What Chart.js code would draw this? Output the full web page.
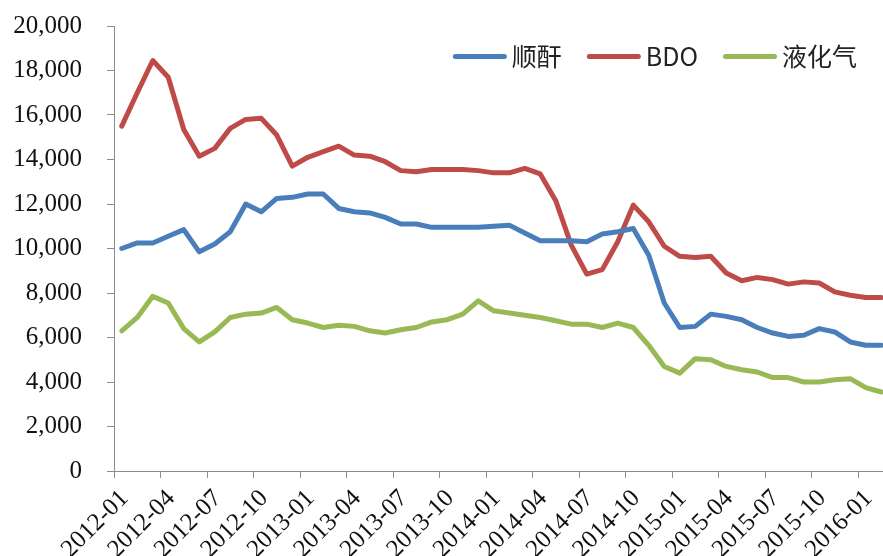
<!DOCTYPE html>
<html>
<head>
<meta charset="utf-8">
<script src="https://cdn.jsdelivr.net/npm/chart.js@4.4.1/dist/chart.umd.min.js"></script>
<style>
  html, body { margin: 0; padding: 0; background: #fff; }
  .frame { width: 883px; height: 556px; overflow: hidden; }
  .inner { width: 890px; height: 556px; }
</style>
</head>
<body>
<div class="frame"><div class="inner"><canvas id="priceChart" width="890" height="556"></canvas></div></div>
<script>
// 月份
const months = [
  "2012-01", "2012-02", "2012-03", "2012-04", "2012-05", "2012-06", "2012-07", "2012-08", "2012-09", "2012-10", "2012-11", "2012-12",
  "2013-01", "2013-02", "2013-03", "2013-04", "2013-05", "2013-06", "2013-07", "2013-08", "2013-09", "2013-10", "2013-11", "2013-12",
  "2014-01", "2014-02", "2014-03", "2014-04", "2014-05", "2014-06", "2014-07", "2014-08", "2014-09", "2014-10", "2014-11", "2014-12",
  "2015-01", "2015-02", "2015-03", "2015-04", "2015-05", "2015-06", "2015-07", "2015-08", "2015-09", "2015-10", "2015-11", "2015-12",
  "2016-01", "2016-02"
];

// 顺酐
const maleicAnhydride = [
  10000, 10250, 10250, 10550, 10850, 9850, 10200, 10750, 12000, 11650, 12250, 12300,
  12450, 12450, 11800, 11650, 11600, 11400, 11100, 11100, 10950, 10950, 10950, 10950,
  11000, 11050, 10700, 10350, 10350, 10350, 10300, 10650, 10750, 10900, 9700, 7550,
  6450, 6500, 7050, 6950, 6800, 6450, 6200, 6050, 6100, 6400, 6250, 5800,
  5650, 5650
];

// BDO
const bdo = [
  15500, 17000, 18450, 17700, 15350, 14150, 14500, 15400, 15800, 15850, 15100, 13700,
  14100, 14350, 14600, 14200, 14150, 13900, 13500, 13450, 13550, 13550, 13550, 13500,
  13400, 13400, 13600, 13350, 12150, 10150, 8850, 9050, 10300, 11950, 11200, 10100,
  9650, 9600, 9650, 8900, 8550, 8700, 8600, 8400, 8500, 8450, 8050, 7900,
  7800, 7800
];

// 液化气
const lpg = [
  6300, 6900, 7850, 7550, 6400, 5800, 6250, 6900, 7050, 7100, 7350, 6800,
  6650, 6450, 6550, 6500, 6300, 6200, 6350, 6450, 6700, 6800, 7050, 7650,
  7200, 7100, 7000, 6900, 6750, 6600, 6600, 6450, 6650, 6450, 5650, 4700,
  4400, 5050, 5000, 4700, 4550, 4450, 4200, 4200, 4000, 4000, 4100, 4150,
  3750, 3550
];

const seriesNames = ["顺酐", "BDO", "液化气"];
const seriesColours = ["#4a7ebb", "#be4b48", "#98b954"];
const axisColour = "#8c8c8c";
const serifFont = "'Liberation Serif', 'Times New Roman', serif";

// 图例画在绘图区右上角, 一行排开
const inlineLegend = {
  id: "inlineLegend",
  afterDraw(chart, args, opts) {
    const { ctx, chartArea } = chart;
    ctx.save();
    ctx.font = opts.font;
    const items = chart.data.datasets.map((ds) => ({
      text: ds.label,
      colour: ds.borderColor,
      w: ctx.measureText(ds.label).width
    }));
    let total = opts.itemGap * (items.length - 1);
    items.forEach((it) => { total += opts.lineLength + opts.textGap + it.w; });
    let x = chartArea.right - opts.right - total;
    const y = chartArea.top + opts.top;
    items.forEach((it) => {
      ctx.strokeStyle = it.colour;
      ctx.lineWidth = 5;
      ctx.lineCap = "round";
      ctx.beginPath();
      ctx.moveTo(x + 2.5, y);
      ctx.lineTo(x + opts.lineLength - 2.5, y);
      ctx.stroke();
      x += opts.lineLength + opts.textGap;
      ctx.fillStyle = opts.color;
      ctx.textAlign = "left";
      ctx.textBaseline = "middle";
      ctx.fillText(it.text, x, y);
      x += it.w + opts.itemGap;
    });
    ctx.restore();
  }
};

function makeDataset(label, data, colour) {
  return {
    label: label,
    data: data,
    borderColor: colour,
    backgroundColor: colour,
    borderWidth: 5,
    borderCapStyle: "round",
    borderJoinStyle: "round",
    pointRadius: 0,
    pointHoverRadius: 0,
    tension: 0,
    fill: false
  };
}

new Chart(document.getElementById("priceChart"), {
  type: "line",
  data: {
    labels: months,
    datasets: [
      makeDataset(seriesNames[0], maleicAnhydride, seriesColours[0]),
      makeDataset(seriesNames[1], bdo, seriesColours[1]),
      makeDataset(seriesNames[2], lpg, seriesColours[2])
    ]
  },
  options: {
    responsive: false,
    animation: false,
    devicePixelRatio: 1,
    layout: { padding: { top: 26, right: 1, left: 0, bottom: 0 } },
    plugins: {
      tooltip: { enabled: false },
      legend: { display: false },
      inlineLegend: {
        font: "25px 'Noto Sans CJK SC', 'Noto Sans', sans-serif",
        color: "#222",
        lineLength: 54,
        textGap: 5,
        itemGap: 25,
        right: 32,
        top: 30.5
      }
    },
    scales: {
      x: {
        offset: true,
        // 轴区域高度固定, 不让斜排的标签挤占右边
        afterFit(scale) {
          scale.height = 85;
          scale.paddingLeft = 0;
          scale.paddingRight = 0;
        },
        border: { display: true, color: axisColour, width: 1 },
        grid: {
          offset: true,
          drawOnChartArea: false,
          drawTicks: true,
          tickLength: 7,
          tickColor: (ctx) => (ctx.index % 3 === 0 ? axisColour : "rgba(0,0,0,0)")
        },
        ticks: {
          autoSkip: false,
          minRotation: 45,
          maxRotation: 45,
          padding: 6,
          labelOffset: 3,
          color: "#111",
          font: { family: serifFont, size: 25 },
          callback: function (value, index) {
            return index % 3 === 0 ? this.getLabelForValue(value) : "";
          }
        }
      },
      y: {
        min: 0,
        max: 20000,
        afterFit(scale) {
          scale.width = 114;
          scale.paddingTop = 0;
          scale.paddingBottom = 0;
        },
        border: { display: true, color: axisColour, width: 1 },
        grid: {
          drawOnChartArea: false,
          drawTicks: true,
          tickLength: 7,
          tickColor: axisColour
        },
        ticks: {
          stepSize: 2000,
          padding: 25,
          color: "#111",
          font: { family: serifFont, size: 25 },
          callback: (value) => value.toLocaleString("en-US")
        }
      }
    }
  },
  plugins: [inlineLegend]
});
</script>
</body>
</html>
